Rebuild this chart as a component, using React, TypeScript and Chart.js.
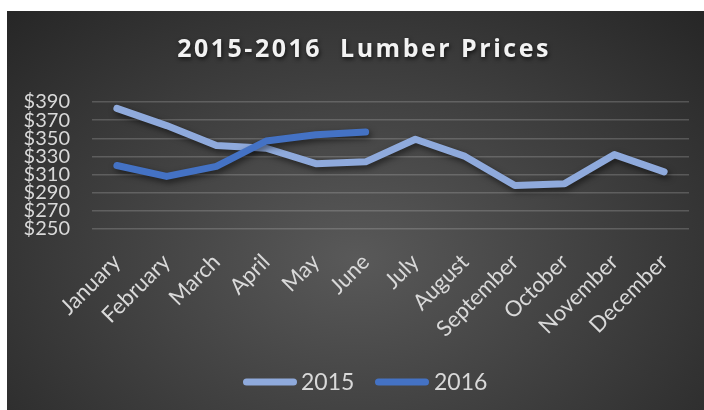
import React, { useEffect, useRef } from "react";
import { Chart, registerables } from "chart.js";

Chart.register(...registerables);

const months = ["January", "February", "March", "April", "May", "June", "July", "August", "September", "October", "November", "December"];
const prices2015 = [383, 364, 342, 339, 322, 324, 349, 330, 298, 300, 332, 313];
const prices2016 = [320, 308, 319, 347, 354, 357, null, null, null, null, null, null];
const yTicks = [250, 270, 290, 310, 330, 350, 370, 390];
const seriesNames = ["2015", "2016"];
const seriesColors = ["#8FAADC", "#4472C4"];
const titleText = "2015-2016  Lumber Prices";

const W = 697;
const H = 399;

export default function App() {
  const ref = useRef<HTMLCanvasElement | null>(null);
  useEffect(() => {
    document.body.style.margin = "0";
    const canvas = ref.current!;
    const shadowPlugin = {
      id: "lineShadow",
      beforeDatasetDraw(chart: any) {
        const ctx = chart.ctx;
        ctx.save();
        ctx.shadowColor = "rgba(0,0,0,0.55)";
        ctx.shadowBlur = 6;
        ctx.shadowOffsetX = 2;
        ctx.shadowOffsetY = 3;
      },
      afterDatasetDraw(chart: any) {
        chart.ctx.restore();
      },
    };
    const decorPlugin = {
      id: "decor",
      afterDraw(chart: any) {
        const ctx = chart.ctx as CanvasRenderingContext2D;
        // title
        ctx.save();
        ctx.font = "bold 25px 'Open Sans'";
        (ctx as any).letterSpacing = "2.5px";
        ctx.textAlign = "center";
        ctx.textBaseline = "middle";
        ctx.shadowColor = "rgba(0,0,0,0.7)";
        ctx.shadowBlur = 4;
        ctx.shadowOffsetX = 1;
        ctx.shadowOffsetY = 2;
        ctx.fillStyle = "#f2f2f2";
        ctx.fillText(titleText, 357, 39);
        ctx.restore();
        // legend
        ctx.save();
        const items = [
          { lx: 236, tx: 294 },
          { lx: 368, tx: 427 },
        ];
        const ly = 371;
        items.forEach((it, i) => {
          ctx.strokeStyle = seriesColors[i];
          ctx.lineWidth = 7;
          ctx.lineCap = "round";
          ctx.beginPath();
          ctx.moveTo(it.lx + 3.5, ly);
          ctx.lineTo(it.lx + 54 - 3.5, ly);
          ctx.stroke();
          ctx.font = "23px Lato";
          ctx.fillStyle = "#d9d9d9";
          ctx.textAlign = "left";
          ctx.textBaseline = "middle";
          ctx.fillText(seriesNames[i], it.tx, ly + 1);
        });
        ctx.restore();
      },
    };
    const chart = new Chart(canvas, {
      type: "line",
      data: {
        labels: months,
        datasets: [
          {
            label: seriesNames[0],
            data: prices2015,
            borderColor: seriesColors[0],
            backgroundColor: seriesColors[0],
            borderWidth: 7,
            borderCapStyle: "round",
            borderJoinStyle: "round",
            pointRadius: 0,
            tension: 0,
            order: 1,
          },
          {
            label: seriesNames[1],
            data: prices2016,
            borderColor: seriesColors[1],
            backgroundColor: seriesColors[1],
            borderWidth: 7,
            borderCapStyle: "round",
            borderJoinStyle: "round",
            pointRadius: 0,
            tension: 0,
            spanGaps: false,
            order: 0,
          },
        ],
      },
      options: {
        animation: false,
        responsive: false,
        devicePixelRatio: 1,
        layout: { padding: { top: 91, right: 15, bottom: 0, left: 0 } },
        plugins: {
          legend: { display: false },
          title: { display: false },
          tooltip: { enabled: false },
        },
        scales: {
          x: {
            type: "category",
            offset: true,
            grid: { display: false, drawTicks: false },
            border: { display: false },
            ticks: {
              color: "#d9d9d9",
              font: { family: "Lato", size: 22 },
              minRotation: 45,
              maxRotation: 45,
              padding: 20,
              autoSkip: false,
            },
            afterFit(scale: any) {
              scale.height = H - 218;
            },
          },
          y: {
            min: 250,
            max: 390,
            afterBuildTicks(scale: any) {
              scale.ticks = yTicks.map((v) => ({ value: v }));
            },
            grid: { color: "rgba(217,217,217,0.22)", lineWidth: 1.5, drawTicks: false },
            border: { display: false },
            ticks: {
              color: "#d9d9d9",
              font: { family: "Lato", size: 20, lineHeight: 1 },
              padding: 22,
              autoSkip: false,
              callback: (v: any) => "$" + v,
            },
            afterFit(scale: any) {
              scale.width = 85;
            },
          },
        },
      },
      plugins: [shadowPlugin, decorPlugin],
    } as any);
    return () => chart.destroy();
  }, []);
  return (
    <div
      style={{
        position: "absolute",
        left: 7,
        top: 11,
        width: W,
        height: H,
        background: "radial-gradient(ellipse farthest-corner at 50% 62%, #595959 0%, #262626 100%)",
      }}
    >
      <canvas ref={ref} width={W} height={H} style={{ display: "block", width: W, height: H }} />
    </div>
  );
}
